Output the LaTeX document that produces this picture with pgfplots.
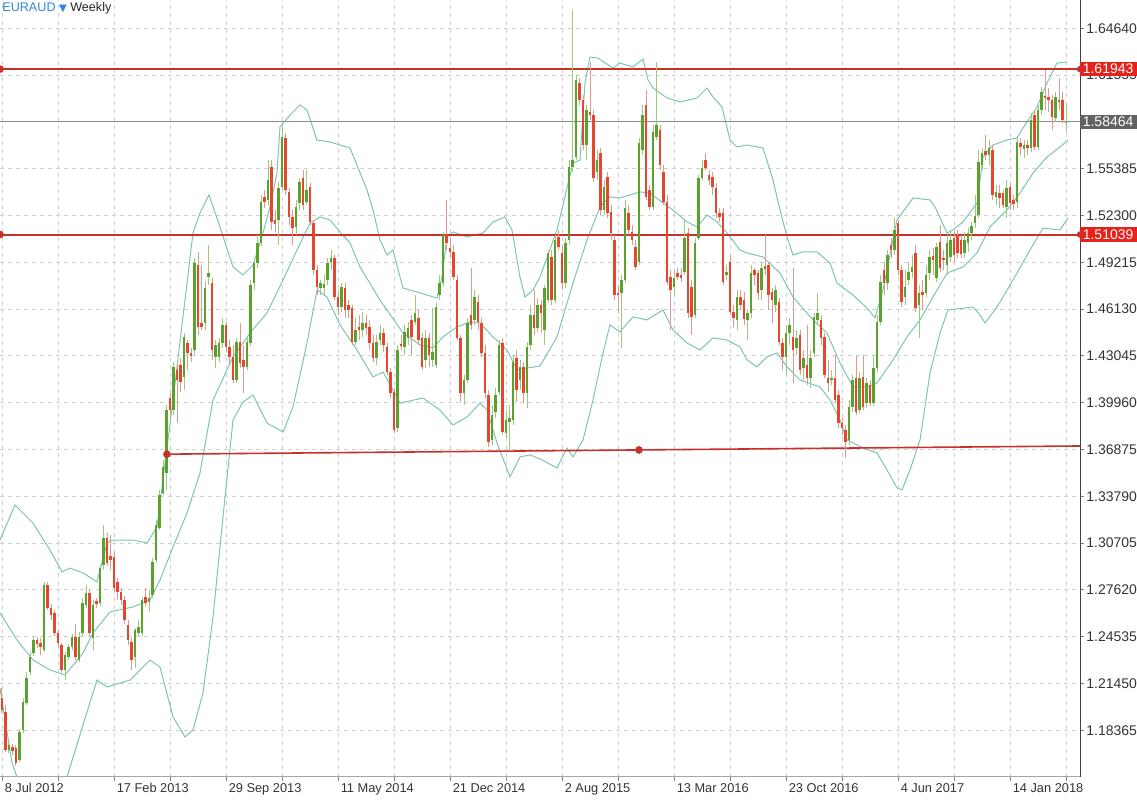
\documentclass[border=0pt]{standalone}
\usepackage{pgfplots}
\pgfplotsset{compat=1.18}
\usepackage{pgfplotstable}
\usepackage{fontspec}
\setmainfont{Liberation Sans}
\newfontfamily\dejavu{DejaVu Sans}
\definecolor{upbody}{HTML}{5AA12E}
\definecolor{upwick}{HTML}{9DC97F}
\definecolor{dnbody}{HTML}{E4462E}
\definecolor{dnwick}{HTML}{DE9A8C}
\definecolor{band}{HTML}{7CC5B5}
\definecolor{hred}{HTML}{C8302B}
\definecolor{boxred}{HTML}{E8201A}
\definecolor{boxgray}{HTML}{616161}
\definecolor{ttlblue}{HTML}{2F87D8}
\definecolor{gridc}{HTML}{D2D2D2}

\pgfplotstableread{
t o h l c
0 1.2049 1.2114 1.1950 1.1970
1 1.1957 1.2003 1.1693 1.1706
2 1.1706 1.1759 1.1686 1.1739
3 1.1726 1.1746 1.1673 1.1699
4 1.1719 1.1739 1.1600 1.1620
5 1.1640 1.1845 1.1627 1.1825
6 1.1838 1.2049 1.1818 1.2023
7 1.2016 1.2220 1.2003 1.2180
8 1.2220 1.2352 1.2200 1.2319
9 1.2345 1.2457 1.2325 1.2431
10 1.2431 1.2451 1.2378 1.2405
11 1.2411 1.2444 1.2332 1.2385
12 1.2365 1.2814 1.2352 1.2794
13 1.2794 1.2814 1.2629 1.2642
14 1.2642 1.2669 1.2563 1.2596
15 1.2609 1.2629 1.2457 1.2477
16 1.2477 1.2497 1.2378 1.2411
17 1.2398 1.2411 1.2213 1.2233
18 1.2233 1.2352 1.2167 1.2332
19 1.2319 1.2405 1.2299 1.2385
20 1.2385 1.2471 1.2365 1.2451
21 1.2451 1.2537 1.2299 1.2319
22 1.2299 1.2484 1.2286 1.2451
23 1.2477 1.2708 1.2457 1.2675
24 1.2662 1.2794 1.2642 1.2741
25 1.2741 1.2761 1.2457 1.2477
26 1.2444 1.2695 1.2365 1.2662
27 1.2688 1.2708 1.2642 1.2669
28 1.2675 1.2926 1.2655 1.2906
29 1.2926 1.3189 1.2893 1.3103
30 1.3103 1.3136 1.2918 1.2938
31 1.2985 1.3123 1.2893 1.2958
32 1.2978 1.3011 1.2748 1.2774
33 1.2814 1.2840 1.2695 1.2748
34 1.2748 1.2774 1.2662 1.2695
35 1.2695 1.2721 1.2537 1.2563
36 1.2530 1.2563 1.2398 1.2431
37 1.2418 1.2444 1.2233 1.2299
38 1.2319 1.2510 1.2246 1.2497
39 1.2477 1.2563 1.2457 1.2517
40 1.2477 1.2715 1.2457 1.2695
41 1.2715 1.2774 1.2655 1.2675
42 1.2682 1.2761 1.2616 1.2708
43 1.2728 1.2971 1.2708 1.2945
44 1.2958 1.3222 1.2938 1.3189
45 1.3169 1.3420 1.3156 1.3387
46 1.3400 1.3618 1.3387 1.3572
47 1.3532 1.3980 1.3420 1.3947
48 1.4026 1.4059 1.3881 1.3947
49 1.3947 1.4264 1.3914 1.4231
50 1.4211 1.4277 1.3861 1.4145
51 1.4244 1.4290 1.4066 1.4132
52 1.4165 1.4455 1.4079 1.4429
53 1.4389 1.4409 1.4211 1.4323
54 1.4323 1.4356 1.4264 1.4303
55 1.4343 1.4949 1.4310 1.4916
56 1.4903 1.4989 1.4442 1.4495
57 1.4521 1.4903 1.4475 1.4495
58 1.4521 1.4797 1.4475 1.4751
59 1.4824 1.5035 1.4771 1.4850
60 1.4784 1.4817 1.4277 1.4343
61 1.4297 1.4409 1.4224 1.4376
62 1.4297 1.4422 1.4264 1.4389
63 1.4389 1.4554 1.4356 1.4508
64 1.4508 1.4528 1.4330 1.4363
65 1.4363 1.4409 1.4244 1.4297
66 1.4297 1.4376 1.4125 1.4145
67 1.4145 1.4422 1.4125 1.4396
68 1.4396 1.4521 1.4224 1.4257
69 1.4277 1.4376 1.4059 1.4231
70 1.4231 1.4422 1.4211 1.4396
71 1.4389 1.4804 1.4369 1.4771
72 1.4784 1.4949 1.4738 1.4916
73 1.4916 1.5101 1.4883 1.5048
74 1.5048 1.5365 1.5028 1.5319
75 1.5352 1.5398 1.5279 1.5319
76 1.5332 1.5595 1.5299 1.5463
77 1.5549 1.5595 1.5134 1.5187
78 1.5200 1.5266 1.5121 1.5174
79 1.5200 1.5450 1.5035 1.5411
80 1.5417 1.5826 1.5398 1.5747
81 1.5740 1.5773 1.5365 1.5398
82 1.5385 1.5411 1.5167 1.5220
83 1.5220 1.5266 1.5035 1.5147
84 1.5154 1.5332 1.5101 1.5286
85 1.5312 1.5477 1.5266 1.5450
86 1.5477 1.5529 1.5266 1.5299
87 1.5319 1.5529 1.5299 1.5398
88 1.5417 1.5444 1.5167 1.5187
89 1.5180 1.5200 1.4837 1.4870
90 1.4870 1.4903 1.4705 1.4758
91 1.4751 1.4804 1.4705 1.4784
92 1.4751 1.4837 1.4699 1.4778
93 1.4804 1.4949 1.4771 1.4916
94 1.4923 1.5002 1.4870 1.4949
95 1.4949 1.4969 1.4672 1.4692
96 1.4692 1.4738 1.4574 1.4626
97 1.4626 1.4784 1.4594 1.4758
98 1.4751 1.4784 1.4554 1.4607
99 1.4640 1.4672 1.4554 1.4607
100 1.4620 1.4640 1.4376 1.4396
101 1.4396 1.4554 1.4376 1.4475
102 1.4495 1.4574 1.4409 1.4475
103 1.4475 1.4594 1.4429 1.4521
104 1.4521 1.4574 1.4442 1.4488
105 1.4495 1.4541 1.4343 1.4389
106 1.4389 1.4442 1.4264 1.4290
107 1.4290 1.4442 1.4244 1.4396
108 1.4409 1.4508 1.4376 1.4455
109 1.4455 1.4488 1.4330 1.4376
110 1.4363 1.4389 1.4178 1.4198
111 1.4198 1.4224 1.4026 1.4059
112 1.4066 1.4092 1.3795 1.3815
113 1.3828 1.4376 1.3802 1.4343
114 1.4383 1.4442 1.4343 1.4369
115 1.4363 1.4508 1.4310 1.4462
116 1.4422 1.4528 1.4376 1.4488
117 1.4541 1.4574 1.4310 1.4429
118 1.4528 1.4705 1.4508 1.4587
119 1.4554 1.4607 1.4376 1.4409
120 1.4422 1.4455 1.4211 1.4231
121 1.4277 1.4475 1.4224 1.4422
122 1.4422 1.4455 1.4231 1.4310
123 1.4277 1.4620 1.4231 1.4330
124 1.4244 1.4653 1.4224 1.4626
125 1.4705 1.4837 1.4672 1.4784
126 1.4784 1.5121 1.4765 1.5101
127 1.5101 1.5332 1.5002 1.5048
128 1.5015 1.5088 1.4949 1.4989
129 1.4989 1.5035 1.4804 1.4824
130 1.4804 1.4837 1.4409 1.4422
131 1.4422 1.4442 1.4000 1.4059
132 1.4059 1.4178 1.3980 1.4145
133 1.4145 1.4554 1.4125 1.4521
134 1.4574 1.4883 1.4475 1.4508
135 1.4541 1.4738 1.4508 1.4692
136 1.4659 1.4705 1.4475 1.4528
137 1.4521 1.4554 1.4297 1.4323
138 1.4323 1.4376 1.4026 1.4059
139 1.4046 1.4079 1.3704 1.3737
140 1.3750 1.3980 1.3717 1.3914
141 1.3934 1.4092 1.3894 1.4046
142 1.4066 1.4409 1.4046 1.4376
143 1.4389 1.4422 1.3783 1.3802
144 1.3795 1.3947 1.3763 1.3881
145 1.3868 1.3980 1.3684 1.3894
146 1.3881 1.4310 1.3848 1.4264
147 1.4290 1.4343 1.4000 1.4079
148 1.4145 1.4277 1.4079 1.4231
149 1.4231 1.4264 1.3993 1.4059
150 1.4059 1.4396 1.3960 1.4363
151 1.4376 1.4640 1.4343 1.4574
152 1.4574 1.4738 1.4442 1.4488
153 1.4488 1.4686 1.4462 1.4640
154 1.4640 1.4672 1.4455 1.4587
155 1.4475 1.4771 1.4376 1.4751
156 1.4672 1.5002 1.4653 1.4982
157 1.4956 1.5002 1.4640 1.4672
158 1.4672 1.5101 1.4653 1.5068
159 1.5088 1.5134 1.5002 1.5022
160 1.4982 1.5035 1.4738 1.4784
161 1.4784 1.5081 1.4751 1.5048
162 1.5068 1.5595 1.5035 1.5549
163 1.5549 1.6584 1.5516 1.5595
164 1.5615 1.6156 1.5595 1.6123
165 1.6103 1.6136 1.5958 1.5991
166 1.5991 1.6024 1.5661 1.5694
167 1.5694 1.5958 1.5595 1.5925
168 1.5912 1.6241 1.5859 1.5892
169 1.5892 1.5925 1.5450 1.5477
170 1.5516 1.5661 1.5463 1.5595
171 1.5641 1.5674 1.5233 1.5266
172 1.5266 1.5463 1.5233 1.5417
173 1.5483 1.5516 1.5213 1.5246
174 1.5253 1.5299 1.5068 1.5114
175 1.5068 1.5101 1.4672 1.4705
176 1.4718 1.4771 1.4587 1.4705
177 1.4718 1.4837 1.4356 1.4804
178 1.4804 1.5332 1.4784 1.5279
179 1.5246 1.5299 1.5101 1.5134
180 1.5121 1.5167 1.5035 1.5068
181 1.5022 1.5068 1.4870 1.4890
182 1.4923 1.5740 1.4903 1.5707
183 1.5661 1.5958 1.5628 1.5892
184 1.5958 1.6057 1.5332 1.5352
185 1.5398 1.5431 1.5266 1.5286
186 1.5286 1.5826 1.5266 1.5780
187 1.5747 1.6241 1.5727 1.5826
188 1.5793 1.5826 1.5529 1.5562
189 1.5516 1.5562 1.5299 1.5319
190 1.5319 1.5365 1.4771 1.4791
191 1.4824 1.4870 1.4475 1.4738
192 1.4758 1.4870 1.4705 1.4817
193 1.4850 1.4883 1.4804 1.4824
194 1.4837 1.4883 1.4791 1.4817
195 1.4857 1.5200 1.4837 1.5081
196 1.5114 1.5147 1.4554 1.4587
197 1.4758 1.4804 1.4442 1.4561
198 1.4574 1.5081 1.4554 1.5048
199 1.5081 1.5496 1.5068 1.5477
200 1.5477 1.5595 1.5463 1.5543
201 1.5595 1.5641 1.5529 1.5543
202 1.5496 1.5529 1.5431 1.5463
203 1.5483 1.5516 1.5365 1.5417
204 1.5411 1.5444 1.5213 1.5246
205 1.5246 1.5279 1.5187 1.5220
206 1.5246 1.5279 1.4771 1.4791
207 1.4837 1.4903 1.4804 1.4857
208 1.4923 1.4969 1.4574 1.4594
209 1.4594 1.4640 1.4488 1.4554
210 1.4541 1.4738 1.4475 1.4692
211 1.4692 1.4738 1.4607 1.4640
212 1.4672 1.4725 1.4508 1.4547
213 1.4541 1.4607 1.4409 1.4587
214 1.4587 1.4903 1.4554 1.4850
215 1.4870 1.4883 1.4771 1.4837
216 1.4850 1.4870 1.4672 1.4718
217 1.4738 1.4923 1.4672 1.4883
218 1.4896 1.5101 1.4837 1.4877
219 1.4903 1.4923 1.4607 1.4705
220 1.4725 1.4751 1.4521 1.4672
221 1.4640 1.4771 1.4594 1.4738
222 1.4659 1.4686 1.4376 1.4396
223 1.4389 1.4422 1.4211 1.4297
224 1.4297 1.4508 1.4178 1.4455
225 1.4455 1.4554 1.4376 1.4508
226 1.4429 1.4883 1.4125 1.4343
227 1.4356 1.4475 1.4310 1.4422
228 1.4442 1.4475 1.4178 1.4211
229 1.4224 1.4343 1.4145 1.4290
230 1.4244 1.4508 1.4112 1.4158
231 1.4158 1.4343 1.4092 1.4290
232 1.4323 1.4587 1.4297 1.4561
233 1.4541 1.4718 1.4508 1.4587
234 1.4541 1.4574 1.4376 1.4422
235 1.4429 1.4455 1.4158 1.4178
236 1.4158 1.4277 1.4066 1.4125
237 1.4145 1.4211 1.4112 1.4158
238 1.4158 1.4310 1.3993 1.4013
239 1.4046 1.4079 1.3828 1.3861
240 1.3861 1.3894 1.3783 1.3828
241 1.3815 1.3848 1.3631 1.3737
242 1.3750 1.4013 1.3717 1.3967
243 1.3967 1.4178 1.3934 1.4145
244 1.4158 1.4310 1.3914 1.3934
245 1.3947 1.4198 1.3927 1.4158
246 1.4165 1.4310 1.3947 1.3967
247 1.3993 1.4158 1.3960 1.4125
248 1.4112 1.4145 1.3973 1.3993
249 1.3993 1.4310 1.3973 1.4224
250 1.4224 1.4574 1.4198 1.4528
251 1.4528 1.4837 1.4508 1.4791
252 1.4870 1.4923 1.4705 1.4784
253 1.4784 1.5002 1.4738 1.4969
254 1.5035 1.5081 1.4949 1.5002
255 1.5002 1.5213 1.4969 1.5134
256 1.5180 1.5200 1.4837 1.4870
257 1.4870 1.4903 1.4626 1.4659
258 1.4692 1.4870 1.4640 1.4758
259 1.4804 1.4923 1.4771 1.4857
260 1.4857 1.4969 1.4817 1.4890
261 1.4982 1.5035 1.4594 1.4620
262 1.4640 1.4771 1.4422 1.4718
263 1.4725 1.4804 1.4607 1.4705
264 1.4718 1.4903 1.4692 1.4837
265 1.4850 1.5002 1.4804 1.4956
266 1.4962 1.5015 1.4837 1.4936
267 1.4817 1.5048 1.4791 1.5022
268 1.5055 1.5167 1.4857 1.4883
269 1.4949 1.5002 1.4870 1.4936
270 1.4903 1.5101 1.4837 1.5048
271 1.4956 1.5134 1.4923 1.5068
272 1.5081 1.5121 1.4923 1.4969
273 1.5094 1.5134 1.4949 1.4982
274 1.5068 1.5101 1.4949 1.4976
275 1.4982 1.5121 1.4949 1.5068
276 1.5048 1.5147 1.4989 1.5114
277 1.5114 1.5187 1.5068 1.5161
278 1.5180 1.5365 1.5147 1.5226
279 1.5233 1.5661 1.5213 1.5582
280 1.5562 1.5674 1.5529 1.5641
281 1.5654 1.5760 1.5595 1.5628
282 1.5628 1.5727 1.5562 1.5674
283 1.5661 1.5694 1.5332 1.5365
284 1.5352 1.5431 1.5299 1.5385
285 1.5378 1.5431 1.5279 1.5345
286 1.5378 1.5398 1.5279 1.5299
287 1.5286 1.5463 1.5213 1.5411
288 1.5417 1.5444 1.5266 1.5312
289 1.5332 1.5365 1.5266 1.5306
290 1.5319 1.5740 1.5279 1.5714
291 1.5707 1.5740 1.5628 1.5681
292 1.5668 1.5727 1.5608 1.5694
293 1.5694 1.5727 1.5628 1.5674
294 1.5674 1.5905 1.5648 1.5859
295 1.5892 1.5925 1.5661 1.5681
296 1.5681 1.5958 1.5661 1.5925
297 1.5925 1.6077 1.5892 1.6044
298 1.6017 1.6189 1.5925 1.6004
299 1.6011 1.6070 1.5912 1.5991
300 1.5991 1.6024 1.5793 1.5879
301 1.5872 1.6044 1.5846 1.6011
302 1.5991 1.6136 1.5925 1.5978
303 1.5991 1.6044 1.5839 1.5859
304 1.5840 1.5958 1.5780 1.5846
}\candles

\pgfplotsset{
  candle/.style={only marks, mark size=0pt, mark options={draw opacity=0, fill opacity=0},
    error bars/y dir=both, error bars/y explicit, error bars/error mark=none, error bars/error bar style={#1}},
}

\begin{document}
\begin{tikzpicture}
\begin{axis}[
  name=plot, scale only axis, width=540pt, height=388.5pt,
  xmin=-0.5714, xmax=308, ymin=1.1528, ymax=1.6650,
  axis x line*=bottom, axis y line*=right,
  x axis line style={black!35, line width=0.5pt},
  y axis line style={black!75, line width=0.5pt},
  xtick={0,16,...,304},
  xticklabels={8 Jul 2012,,17 Feb 2013,,29 Sep 2013,,11 May 2014,,21 Dec 2014,,2 Aug 2015,,13 Mar 2016,,23 Oct 2016,,4 Jun 2017,,14 Jan 2018,},
  ytick={1.18365,1.21450,1.24535,1.27620,1.30705,1.33790,1.36875,1.39960,1.43045,1.46130,1.49215,1.52300,1.55385,1.58470,1.61555,1.64640},
  yticklabels={1.18365,1.21450,1.24535,1.27620,1.30705,1.33790,1.36875,1.39960,1.43045,1.46130,1.49215,1.52300,1.55385,,1.61555,1.64640},
  yticklabel style={anchor=west, inner sep=1pt, font=\fontsize{7}{8}\selectfont, text=black!80},
  xticklabel style={anchor=north west, inner sep=1pt, xshift=0.2pt, font=\fontsize{6.4}{7.5}\selectfont, text=black!80},
  grid=major, major grid style={gridc, dash pattern=on 2pt off 2pt, line width=0.45pt},
  tick align=outside, major tick length=2pt, tick style={black!50, line width=0.4pt},
]
% Bollinger bands
\addplot[band, line width=0.5pt] coordinates {
(-0.57,1.3090) (3.71,1.3321) (8.86,1.3202) (13.71,1.3024) (17.14,1.2880) (19.43,1.2905) (23.14,1.2873) (27.14,1.2814) (30,1.3070) (31.71,1.3090) (37.43,1.3090) (41.43,1.3070) (44.29,1.3176) (48.86,1.4013) (54.57,1.5114) (56.57,1.5246) (59.14,1.5365) (62.29,1.5154) (66,1.4890) (68.86,1.4837) (71.71,1.4903) (74.57,1.5114) (76.57,1.5286) (78.57,1.5509) (79.43,1.5813) (82.29,1.5892) (85.14,1.5958) (87.14,1.5925) (90,1.5727) (93.71,1.5714) (99.43,1.5674) (104.29,1.5398) (106,1.5266) (108,1.5068) (110,1.4969) (111.71,1.5002) (114.57,1.4751) (118.57,1.4725) (124.29,1.4685) (125.71,1.4824) (127.14,1.5088) (128.86,1.5121) (132.86,1.5088) (137.43,1.5114) (140.29,1.5187) (143.71,1.5220) (145.71,1.5134) (148,1.4824) (149.43,1.4692) (151.71,1.4738) (153.71,1.4824) (158.57,1.5134) (163.14,1.5575) (165.14,1.5595) (166.57,1.6103) (168,1.6274) (170.29,1.6267) (174.57,1.6201) (176.57,1.6234) (180.29,1.6208) (183.14,1.6261) (184.57,1.6123) (186,1.6070) (190,1.6004) (193.71,1.5978) (198.57,1.6004) (201.43,1.6070) (203.14,1.6011) (205.71,1.5945) (208,1.5727) (210,1.5681) (212.86,1.5694) (217.43,1.5674) (220.29,1.5463) (222.29,1.5266) (224.29,1.5088) (226,1.4969) (228.86,1.4989) (232.86,1.4989) (236.57,1.4916) (238.57,1.4784) (243.14,1.4705) (247.14,1.4620) (249.43,1.4554) (251.71,1.4738) (255.71,1.5200) (260.29,1.5345) (265.14,1.5332) (266.57,1.5286) (270,1.5114) (271.71,1.5134) (274.57,1.5187) (278.57,1.5312) (280.29,1.5615) (283.14,1.5694) (287.14,1.5727) (290,1.5740) (291.71,1.5806) (295.71,1.5945) (298.57,1.6103) (301.43,1.6234) (304.29,1.6241)
};
\addplot[band, line width=0.5pt] coordinates {
(-0.57,1.2609) (4.29,1.2431) (8.86,1.2299) (13.71,1.2233) (18,1.2200) (23.14,1.2345) (26,1.2477) (30.86,1.2616) (37.43,1.2649) (42.29,1.2695) (45.14,1.2827) (48.86,1.3044) (52.86,1.3268) (56.57,1.3532) (60.29,1.4013) (66,1.4297) (70.86,1.4455) (75.71,1.4587) (80.29,1.4804) (84.29,1.5002) (88,1.5180) (90.86,1.5220) (93.71,1.5200) (96.57,1.5121) (99.43,1.5048) (102.29,1.4890) (108,1.4672) (114.57,1.4455) (119.43,1.4376) (123.14,1.4356) (126,1.4429) (130,1.4495) (133.71,1.4528) (136.57,1.4521) (140.29,1.4429) (144.29,1.4343) (147.14,1.4211) (150,1.4224) (153.71,1.4237) (158.57,1.4429) (163.14,1.4784) (167.14,1.5068) (170.86,1.5286) (173.71,1.5352) (176.57,1.5345) (182.29,1.5385) (185.14,1.5378) (188.86,1.5312) (191.71,1.5266) (195.71,1.5187) (198.57,1.5154) (201.43,1.5233) (204.29,1.5187) (207.14,1.5114) (210.86,1.5002) (212.86,1.4982) (217.43,1.4956) (222.29,1.4850) (226,1.4692) (231.71,1.4541) (235.71,1.4455) (239.43,1.4257) (243.14,1.4099) (247.14,1.4099) (250,1.4125) (254.57,1.4277) (258.57,1.4429) (262.29,1.4541) (266,1.4692) (270,1.4850) (274.57,1.4890) (278.57,1.4982) (282.29,1.5154) (287.14,1.5266) (290.86,1.5378) (294.57,1.5509) (298.57,1.5615) (302.29,1.5681) (304.57,1.5727)
};
\addplot[band, line width=0.5pt] coordinates {
(-0.57,1.2114) (2.86,1.1620) (5.14,1.1475) (16.57,1.1442) (18.57,1.1528) (23.14,1.1871) (27.14,1.2167) (30,1.2121) (36.57,1.2167) (42.29,1.2299) (45.14,1.2253) (48.86,1.1924) (52.29,1.1792) (54.57,1.1838) (57.43,1.2082) (60.29,1.2583) (63.14,1.3242) (66,1.3881) (68.86,1.4000) (71.71,1.4046) (75.71,1.3861) (80.29,1.3802) (83.14,1.3967) (87.14,1.4389) (90,1.4738) (92.86,1.4692) (96.57,1.4508) (101.43,1.4343) (106,1.4165) (108.86,1.4198) (111.71,1.4079) (113.71,1.3993) (120.29,1.4026) (125.14,1.3947) (128.86,1.3848) (132.86,1.3901) (136.57,1.3993) (138.57,1.3947) (141.43,1.3730) (145.14,1.3506) (148,1.3638) (150.86,1.3651) (153.71,1.3625) (158.57,1.3565) (161.43,1.3697) (163.14,1.3638) (166,1.3750) (168.86,1.4013) (171.71,1.4323) (173.71,1.4508) (176.57,1.4462) (180.29,1.4561) (184.29,1.4541) (188.86,1.4607) (191.71,1.4475) (195.71,1.4389) (199.43,1.4343) (203.14,1.4422) (207.14,1.4409) (210.86,1.4363) (212.86,1.4277) (215.71,1.4231) (218.57,1.4297) (221.43,1.4323) (224.29,1.4231) (228,1.4145) (233.71,1.4099) (236.57,1.4013) (239.43,1.3881) (241.43,1.3750) (246,1.3697) (250,1.3664) (252.86,1.3552) (255.71,1.3433) (257.14,1.3420) (259.43,1.3552) (262.29,1.3750) (265.14,1.4191) (268,1.4455) (270.29,1.4607) (277.43,1.4626) (279.43,1.4574) (280.86,1.4521) (284.29,1.4626) (288.86,1.4804) (293.71,1.5002) (297.43,1.5147) (302.29,1.5134) (304.57,1.5213)
};
% horizontal levels
\addplot[hred, line width=1pt] coordinates {(-0.5714,1.61943) (308,1.61943)};
\addplot[hred, line width=1pt] coordinates {(-0.5714,1.51039) (308,1.51039)};
\addplot[black!45, line width=0.5pt] coordinates {(-0.5714,1.58464) (308,1.58464)};
% trend line
\addplot[hred, line width=0.8pt] coordinates {(47.14,1.3656) (308,1.3710)};
% candles: wicks
\addplot[restrict expr to domain={\thisrow{c}-\thisrow{o}}{0.00001:1}, candle={upwick, line width=0.5pt}]
  table[x=t, y expr={(\thisrow{h}+\thisrow{l})/2}, y error plus expr={(\thisrow{h}-\thisrow{l})/2}, y error minus expr={(\thisrow{h}-\thisrow{l})/2}] {\candles};
\addplot[restrict expr to domain={\thisrow{c}-\thisrow{o}}{-1:0}, candle={dnwick, line width=0.5pt}]
  table[x=t, y expr={(\thisrow{h}+\thisrow{l})/2}, y error plus expr={(\thisrow{h}-\thisrow{l})/2}, y error minus expr={(\thisrow{h}-\thisrow{l})/2}] {\candles};
% candles: bodies
\addplot[restrict expr to domain={\thisrow{c}-\thisrow{o}}{0.00001:1}, candle={upbody, line width=1.4pt}]
  table[x=t, y expr={(\thisrow{o}+\thisrow{c})/2}, y error plus expr={max(abs(\thisrow{c}-\thisrow{o})/2,0.0003)}, y error minus expr={max(abs(\thisrow{c}-\thisrow{o})/2,0.0003)}] {\candles};
\addplot[restrict expr to domain={\thisrow{c}-\thisrow{o}}{-1:0}, candle={dnbody, line width=1.4pt}]
  table[x=t, y expr={(\thisrow{o}+\thisrow{c})/2}, y error plus expr={max(abs(\thisrow{c}-\thisrow{o})/2,0.0003)}, y error minus expr={max(abs(\thisrow{c}-\thisrow{o})/2,0.0003)}] {\candles};
% dots
\addplot[only marks, mark=*, mark size=1.7pt, hred] coordinates {(-0.5714,1.61943) (-0.5714,1.51039) (47.14,1.3656) (182,1.3684)};
\coordinate (b1) at (axis cs:308,1.61943);
\coordinate (b2) at (axis cs:308,1.51039);
\coordinate (b3) at (axis cs:308,1.58464);
\end{axis}
\foreach \c/\v/\f in {b1/1.61943/boxred, b2/1.51039/boxred, b3/1.58464/boxgray} {
  \node[fill=\f, text=white, anchor=west, inner xsep=1.2pt, inner ysep=0pt, text width=26pt, minimum height=7.2pt, align=left, font=\fontsize{7}{8}\selectfont] at (\c) {\v};
}
\fill[hred] (b1) circle (1.6pt);
\fill[hred] (b2) circle (1.6pt);
\node[anchor=base west, inner sep=0pt, font=\fontsize{6.3}{7}\selectfont] at ([xshift=1pt,yshift=-5.6pt]plot.north west) {\textcolor{ttlblue}{EURAUD {\dejavu\fontsize{5}{6}\selectfont ▼}} \textcolor{black!85}{Weekly}};
\pgfresetboundingbox
\path[use as bounding box] ([yshift=-11.5pt]plot.south west) rectangle ([xshift=28.5pt]plot.north east);
\end{tikzpicture}
\end{document}
